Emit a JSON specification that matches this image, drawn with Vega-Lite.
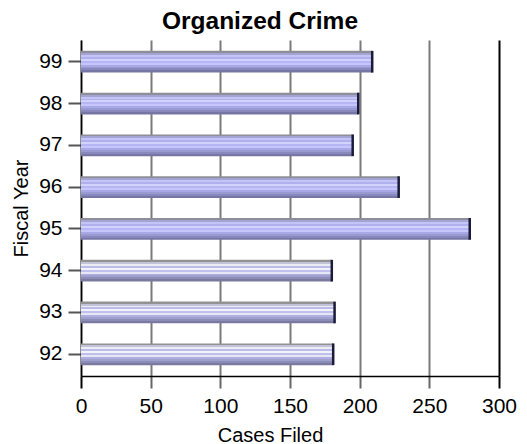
{
  "$schema": "https://vega.github.io/schema/vega-lite/v6.json",
  "autosize": "none",
  "width": 418,
  "height": 336,
  "padding": {"left": 81, "top": 40, "right": 28, "bottom": 68},
  "background": "white",
  "title": {
    "text": "Organized Crime",
    "font": "Liberation Sans",
    "fontSize": 24.5,
    "fontWeight": "bold",
    "color": "black",
    "anchor": "middle",
    "dx": -30,
    "offset": 6
  },
  "data": {
    "values": [
      {"year": "92", "cases": 181, "style": "light"},
      {"year": "93", "cases": 182, "style": "light"},
      {"year": "94", "cases": 180, "style": "light"},
      {"year": "95", "cases": 279, "style": "blue"},
      {"year": "96", "cases": 228, "style": "blue"},
      {"year": "97", "cases": 195, "style": "blue"},
      {"year": "98", "cases": 199, "style": "blue"},
      {"year": "99", "cases": 209, "style": "blue"}
    ]
  },
  "encoding": {
    "y": {
      "field": "year",
      "type": "ordinal",
      "sort": "descending",
      "scale": {"paddingInner": 0.48, "paddingOuter": 0.26},
      "axis": {
        "title": "Fiscal Year",
        "titleFont": "Liberation Sans",
        "titleFontSize": 20,
        "titleFontWeight": "normal",
        "titleColor": "black",
        "titlePadding": 7,
        "labelFont": "Liberation Sans",
        "labelFontSize": 21,
        "labelColor": "black",
        "labelPadding": 6,
        "tickSize": 13,
        "tickColor": "#555555",
        "tickWidth": 2,
        "domainColor": "black",
        "domainWidth": 1.5,
        "grid": false
      }
    },
    "x": {
      "field": "cases",
      "type": "quantitative",
      "scale": {"domain": [0, 300], "nice": false},
      "axis": {
        "title": "Cases Filed",
        "values": [0, 50, 100, 150, 200, 250, 300],
        "titleFont": "Liberation Sans",
        "titleFontSize": 20,
        "titleFontWeight": "normal",
        "titleColor": "black",
        "titlePadding": 9,
        "titleX": 189,
        "labelFont": "Liberation Sans",
        "labelFontSize": 21,
        "labelColor": "black",
        "labelPadding": 7,
        "labelFlush": false,
        "tickSize": 12,
        "tickWidth": 2,
        "tickColor": {"condition": {"test": "datum.value === 0 || datum.value === 300", "value": "black"}, "value": "#666666"},
        "domainColor": "black",
        "domainWidth": 1.5,
        "grid": true,
        "gridWidth": 2,
        "gridColor": {"condition": {"test": "datum.value === 300", "value": "black"}, "value": "#7a7a7a"}
      }
    }
  },
  "layer": [
    {
      "transform": [{"filter": "datum.style === 'blue'"}],
      "mark": {
        "type": "bar",
        "color": {
          "gradient": "linear",
          "x1": 0, "y1": 0, "x2": 0, "y2": 1,
          "stops": [
            {"offset": 0, "color": "#8e8e98"},
            {"offset": 0.09, "color": "#8e8e98"},
            {"offset": 0.09, "color": "#a4a4d4"},
            {"offset": 0.18, "color": "#a4a4d4"},
            {"offset": 0.18, "color": "#c4c4f6"},
            {"offset": 0.27, "color": "#c4c4f6"},
            {"offset": 0.27, "color": "#b0b0ee"},
            {"offset": 0.36, "color": "#b0b0ee"},
            {"offset": 0.36, "color": "#d2d2ff"},
            {"offset": 0.45, "color": "#d2d2ff"},
            {"offset": 0.45, "color": "#b6b6f4"},
            {"offset": 0.54, "color": "#b6b6f4"},
            {"offset": 0.54, "color": "#c6c6fc"},
            {"offset": 0.63, "color": "#c6c6fc"},
            {"offset": 0.63, "color": "#a8a8e6"},
            {"offset": 0.72, "color": "#a8a8e6"},
            {"offset": 0.72, "color": "#9a9ad2"},
            {"offset": 0.81, "color": "#9a9ad2"},
            {"offset": 0.81, "color": "#8888bc"},
            {"offset": 0.9, "color": "#8888bc"},
            {"offset": 0.9, "color": "#7676a4"},
            {"offset": 1, "color": "#7676a4"}
          ]
        }
      }
    },
    {
      "transform": [{"filter": "datum.style === 'light'"}],
      "mark": {
        "type": "bar",
        "color": {
          "gradient": "linear",
          "x1": 0, "y1": 0, "x2": 0, "y2": 1,
          "stops": [
            {"offset": 0, "color": "#929292"},
            {"offset": 0.09, "color": "#929292"},
            {"offset": 0.09, "color": "#c2c2d8"},
            {"offset": 0.18, "color": "#c2c2d8"},
            {"offset": 0.18, "color": "#ececf4"},
            {"offset": 0.27, "color": "#ececf4"},
            {"offset": 0.27, "color": "#bcbce8"},
            {"offset": 0.36, "color": "#bcbce8"},
            {"offset": 0.36, "color": "#f2f2fa"},
            {"offset": 0.45, "color": "#f2f2fa"},
            {"offset": 0.45, "color": "#c0c0ee"},
            {"offset": 0.54, "color": "#c0c0ee"},
            {"offset": 0.54, "color": "#e6e6f4"},
            {"offset": 0.63, "color": "#e6e6f4"},
            {"offset": 0.63, "color": "#aeaee0"},
            {"offset": 0.72, "color": "#aeaee0"},
            {"offset": 0.72, "color": "#a0a0cc"},
            {"offset": 0.81, "color": "#a0a0cc"},
            {"offset": 0.81, "color": "#8c8cb8"},
            {"offset": 0.9, "color": "#8c8cb8"},
            {"offset": 0.9, "color": "#7a7aa0"},
            {"offset": 1, "color": "#7a7aa0"}
          ]
        }
      }
    },
    {
      "mark": {"type": "tick", "color": "#1a1a3a", "thickness": 2.5, "size": 21.7, "opacity": 1}
    }
  ],
  "config": {
    "view": {"stroke": null},
    "axis": {"labelBound": false}
  }
}
